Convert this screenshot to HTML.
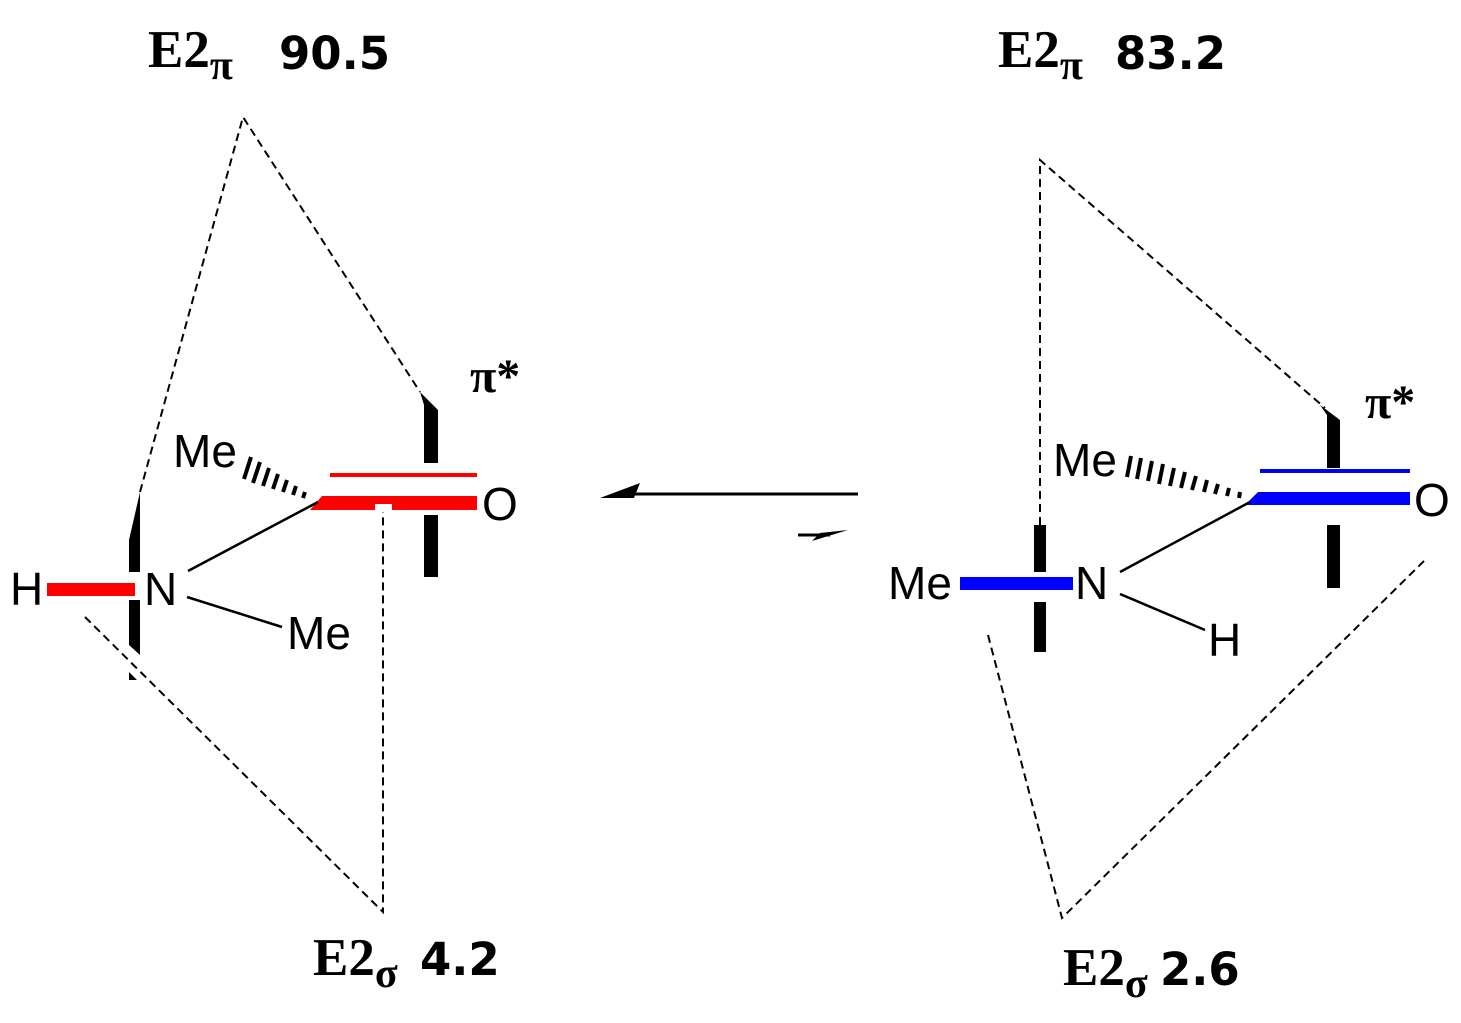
<!DOCTYPE html>
<html><head><meta charset="utf-8"><style>
html,body{margin:0;padding:0;background:#fff;}
svg{display:block;}
.s{font-family:"Liberation Serif",serif;font-weight:bold;}
.n{font-family:"DejaVu Sans",sans-serif;font-weight:bold;}
.a{font-family:"Liberation Sans",sans-serif;}
</style></head><body>
<svg width="1461" height="1023" viewBox="0 0 1461 1023" xmlns="http://www.w3.org/2000/svg">
<g fill="none" stroke="#000" stroke-width="2" stroke-dasharray="8,5">
<polyline points="140,492 243,117 420,392"/>
<polyline points="85,617 383,912 383,512"/>
<polyline points="1040,525 1040,160 1325,408"/>
<polyline points="988,635 1062,918 1425,560"/>
</g>
<g fill="#000">
<polygon points="140,492 140,572 129,572 129,540"/>
<polygon points="129,600 140,600 140,655 129,645"/>
<polygon points="129,672 137,680 129,680"/>
<polygon points="420,392 438,410 438,463 424,463 424,405"/>
<rect x="424" y="515" width="14" height="62"/>
</g>
<rect x="47" y="583" width="88" height="13" fill="#f00"/>
<rect x="330" y="473" width="147" height="4" fill="#f00"/>
<polygon points="322,496 477,496 477,510 392,510 392,504 375,504 375,510 310,510" fill="#f00"/>
<g stroke="#000" stroke-width="2.5">
<line x1="188" y1="571" x2="318" y2="502"/>
<line x1="187" y1="597" x2="282" y2="627"/>
</g>
<g stroke="#000" stroke-width="4">
<line x1="305" y1="492" x2="303" y2="498"/>
<line x1="296" y1="486" x2="293" y2="495"/>
<line x1="287" y1="480" x2="283" y2="492"/>
<line x1="278" y1="474" x2="273" y2="489"/>
<line x1="269" y1="468" x2="263" y2="486"/>
<line x1="260" y1="462" x2="253" y2="483"/>
<line x1="251" y1="457" x2="244" y2="479"/>
</g>
<g class="a" font-size="46">
<text x="10" y="605">H</text>
<text x="144" y="605">N</text>
<text x="287" y="649">Me</text>
<text x="173" y="467">Me</text>
<text x="482" y="520">O</text>
</g>
<text class="s" x="470" y="392" font-size="48">π*</text>
<text class="s" x="148" y="67" font-size="53">E2<tspan font-size="42" dy="12">π</tspan></text>
<text class="n" x="279" y="69" font-size="45">90.5</text>
<text class="s" x="313" y="975" font-size="53">E2<tspan font-size="42" dy="12">σ</tspan></text>
<text class="n" x="420" y="975" font-size="45">4.2</text>
<line x1="630" y1="494" x2="858" y2="494" stroke="#000" stroke-width="3"/>
<polygon points="600,498 640,483 634,498" fill="#000"/>
<line x1="798" y1="535" x2="830" y2="535" stroke="#000" stroke-width="3"/>
<polygon points="812,541 848,530 820,533" fill="#000"/>
<g fill="#000">
<rect x="1034" y="525" width="12" height="47"/>
<rect x="1034" y="602" width="12" height="50"/>
<polygon points="1320,405 1340,420 1340,468 1327,468 1327,415"/>
<rect x="1327" y="525" width="13" height="63"/>
</g>
<rect x="960" y="577" width="113" height="13" fill="#00f"/>
<rect x="1260" y="469" width="150" height="4" fill="#00f"/>
<polygon points="1258,492 1410,492 1410,505 1245,505" fill="#00f"/>
<g stroke="#000" stroke-width="2.5">
<line x1="1120" y1="572" x2="1250" y2="502"/>
<line x1="1120" y1="594" x2="1205" y2="630"/>
</g>
<g stroke="#000" stroke-width="4">
<line x1="1240" y1="492" x2="1239" y2="498"/>
<line x1="1229" y1="488" x2="1227" y2="496"/>
<line x1="1218" y1="484" x2="1215" y2="494"/>
<line x1="1207" y1="480" x2="1204" y2="492"/>
<line x1="1196" y1="476" x2="1192" y2="490"/>
<line x1="1185" y1="472" x2="1181" y2="488"/>
<line x1="1174" y1="468" x2="1170" y2="486"/>
<line x1="1163" y1="464" x2="1159" y2="484"/>
<line x1="1152" y1="461" x2="1148" y2="481"/>
<line x1="1141" y1="458" x2="1137" y2="479"/>
<line x1="1131" y1="456" x2="1127" y2="477"/>
</g>
<g class="a" font-size="46">
<text x="888" y="599">Me</text>
<text x="1075" y="599">N</text>
<text x="1208" y="656">H</text>
<text x="1053" y="476">Me</text>
<text x="1414" y="516">O</text>
</g>
<text class="s" x="1365" y="418" font-size="48">π*</text>
<text class="s" x="998" y="67" font-size="53">E2<tspan font-size="42" dy="12">π</tspan></text>
<text class="n" x="1115" y="69" font-size="45">83.2</text>
<text class="s" x="1063" y="985" font-size="53">E2<tspan font-size="42" dy="12">σ</tspan></text>
<text class="n" x="1160" y="985" font-size="45">2.6</text>
</svg>
</body></html>
